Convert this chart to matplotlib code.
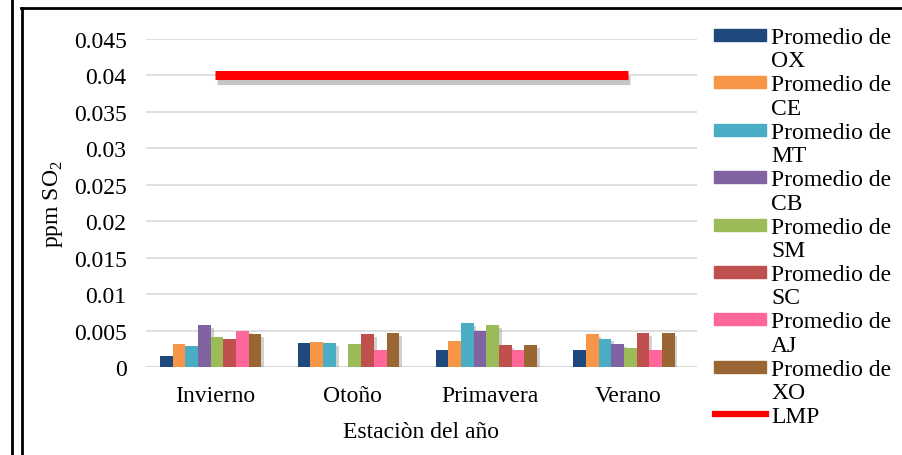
import matplotlib
matplotlib.use("Agg")
import matplotlib.pyplot as plt
import matplotlib.patheffects as pe
from matplotlib.patches import Rectangle
from matplotlib.lines import Line2D
import numpy as np

plt.rcParams['font.family'] = ['Liberation Serif', 'DejaVu Serif']
plt.rcParams['mathtext.fontset'] = 'custom'
plt.rcParams['mathtext.rm'] = 'Liberation Serif'

# data
estaciones = ['Invierno', 'Otoño', 'Primavera', 'Verano']
series = ['OX', 'CE', 'MT', 'CB', 'SM', 'SC', 'AJ', 'XO']
colores = ['#1f497d', '#f79646', '#4bacc6', '#8064a2',
           '#9bbb59', '#c0504d', '#ff6699', '#996633']
valores = {
    'OX': [0.0015, 0.0033, 0.0024, 0.0024],
    'CE': [0.0032, 0.0034, 0.0035, 0.0045],
    'MT': [0.0029, 0.0033, 0.0060, 0.0039],
    'CB': [0.0058, 0.0, 0.0049, 0.0031],
    'SM': [0.0041, 0.0031, 0.0058, 0.0026],
    'SC': [0.0038, 0.0045, 0.0030, 0.0046],
    'AJ': [0.0050, 0.0024, 0.0023, 0.0024],
    'XO': [0.0045, 0.0046, 0.0030, 0.0046],
}
lmp = [0.04, 0.04, 0.04, 0.04]
yticks = [0, 0.005, 0.01, 0.015, 0.02, 0.025, 0.03, 0.035, 0.04, 0.045]
ytick_labels = ['0', '0.005', '0.01', '0.015', '0.02', '0.025', '0.03', '0.035', '0.04', '0.045']

W, H = 902, 456
FS = 17
fig = plt.figure(figsize=(W / 100, H / 100), dpi=100)
ax = fig.add_axes([146 / W, 1 - 368 / H, 551 / W, 328 / H])

x = np.arange(len(estaciones))
bw = 0.092
shadow = [pe.SimplePatchShadow(offset=(2, -2), shadow_rgbFace='0.55', alpha=0.4), pe.Normal()]
for i, s in enumerate(series):
    pos = x - 0.03 + (i - 3.5) * bw
    bars = ax.bar(pos, valores[s], width=bw, color=colores[i], zorder=3)
    for b in bars:
        if b.get_height() > 0:
            b.set_path_effects(shadow)

ax.plot(x, lmp, color='#ff0000', lw=6.5, solid_capstyle='butt', zorder=4,
        path_effects=[pe.SimpleLineShadow(offset=(1.5, -3), shadow_color='0.5', alpha=0.45), pe.Normal()])

ax.set_xlim(-0.5, 3.5)
ax.set_ylim(0, 0.045)
ax.set_yticks(yticks)
ax.set_yticklabels(ytick_labels, fontsize=FS)
ax.set_xticks(x)
ax.set_xticklabels(estaciones, fontsize=FS)
ax.tick_params(axis='y', length=0, pad=14)
ax.tick_params(axis='x', length=0, pad=13)
ax.grid(axis='y', color='#d9d9d9', lw=1.2, zorder=0)
for sp in ax.spines.values():
    sp.set_visible(False)
ax.axhline(0, color='#d9d9d9', lw=1.5, zorder=1)

ax.set_ylabel('ppm SO$_2$', fontsize=FS)
ax.yaxis.set_label_coords(-0.147, 0.5)
fig.text(421 / W, 1 - 433 / H, 'Estaciòn del año', fontsize=FS, ha='center', va='center')

# legend, drawn by hand so the swatch sits on the first text line
etiquetas = ['Promedio de\n' + s for s in series] + ['LMP']
for k, lab in enumerate(etiquetas):
    yc = 36 + k * 47.4
    if k < len(series):
        fig.patches.append(Rectangle((714 / W, 1 - (yc + 6) / H), 52 / W, 12 / H,
                                     transform=fig.transFigure, color=colores[k]))
    else:
        fig.lines.append(Line2D([715 / W, 766 / W], [1 - yc / H, 1 - yc / H],
                                transform=fig.transFigure, color='#ff0000', lw=4.5))
    fig.text(771 / W, 1 - (yc - 8) / H, lab, fontsize=FS, ha='left', va='top',
             linespacing=1.15)

# frame lines
fig.lines.append(Line2D([11.5 / W, 11.5 / W], [0, 1], transform=fig.transFigure, color='black', lw=2))
fig.lines.append(Line2D([21.5 / W, 21.5 / W], [0, 1 - 9 / H], transform=fig.transFigure, color='black', lw=2))
fig.lines.append(Line2D([20.5 / W, 1], [1 - 9 / H, 1 - 9 / H], transform=fig.transFigure, color='black', lw=2))

fig.savefig('out.png', dpi=100)
